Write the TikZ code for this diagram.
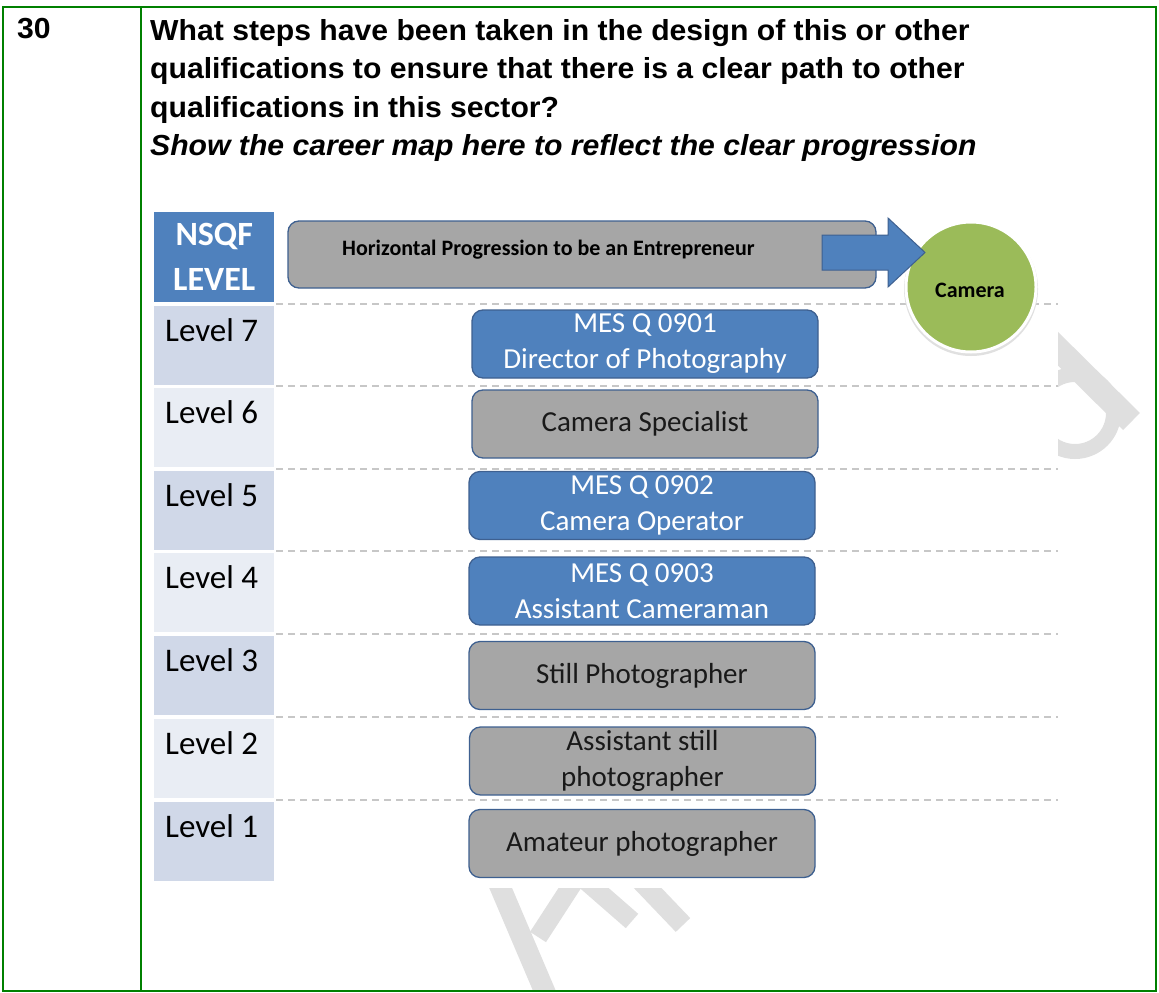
\documentclass[tikz,border=0pt]{standalone}
\usepackage{fontspec}
\setmainfont{Carlito}
\newfontfamily\headfont[FakeStretch=1.04]{Liberation Sans}
\definecolor{frame}{HTML}{008000}
\definecolor{qblue}{HTML}{4F81BD}
\definecolor{qedge}{HTML}{3E6090}
\definecolor{qgrey}{HTML}{A6A6A6}
\definecolor{lvldark}{HTML}{D0D8E8}
\definecolor{lvllight}{HTML}{E9EDF4}
\definecolor{camgreen}{HTML}{9BBB59}
\definecolor{wmark}{HTML}{DFDFDF}

\begin{document}
\begin{tikzpicture}[x=1pt, y=-1pt,
    head/.style={anchor=base west, inner sep=0pt, font=\headfont\bfseries\fontsize{29}{35}\selectfont},
    lvlcell/.style={anchor=north west, minimum width=120pt, minimum height=79pt, inner sep=0pt},
    lvltext/.style={anchor=north west, inner sep=0pt, xshift=11pt, yshift=-12pt, font=\fontsize{33}{40}\selectfont},
    qbox/.style={rounded corners=11pt, draw=qedge, line width=1.3pt, minimum width=346pt,
      minimum height=68pt, align=center, inner sep=0pt, font=\fontsize{29}{36}\selectfont},
    blueq/.style={qbox, fill=qblue, text=white},
    greyq/.style={qbox, fill=qgrey, text=black!90},
    levelsep/.style={draw=black!22, dash pattern=on 7pt off 5pt, line width=1.3pt}]
  \useasboundingbox (0,0) rectangle (1159,993);

  % Watermark strokes, partly hidden behind the chart
  \begin{scope}
    \clip (1058,7) rectangle (1156,991);
    \draw[wmark, line width=24pt] (1040,331) -- (1131.5,421.5);
    \draw[wmark, line width=15pt] (1075,413) circle (38.5pt);
  \end{scope}
  \begin{scope}
    \clip (150,888) rectangle (1156,991);
    \draw[wmark, line width=21pt] (490,863) -- (556,1018);
    \draw[wmark, line width=19pt] (538,937) -- (575,880);
    \draw[wmark, line width=19pt] (585,880) -- (632,921);
    \draw[wmark, line width=20pt] (640,880) -- (683,925);
  \end{scope}
  \fill[white] (150,203) rectangle (1058,888);

  % Table frame
  \draw[frame, line width=2.2pt] (3,7) rectangle (1156,991);
  \draw[frame, line width=2.2pt] (141,7) -- (141,991);

  % Row number and question
  \node[head] (num) at (17,38) {30};
  \node[head] (q1) at (150,40) {What steps have been taken in the design of this or other};
  \node[head] (q2) at (150,78.5) {qualifications to ensure that there is a clear path to other};
  \node[head] (q3) at (150,117) {qualifications in this sector?};
  \node[head, font=\headfont\bfseries\itshape\fontsize{29}{35}\selectfont] (q4) at (150,155.5)
    {Show the career map here to reflect the clear progression};

  % Level column
  \node[anchor=north west, fill=qblue, minimum width=120pt, minimum height=90pt, inner sep=0pt,
    align=center, text=white, font=\bfseries\fontsize{34}{45}\selectfont] (nsqf) at (154,212) {NSQF\\LEVEL};
  \foreach \lv/\top/\shade in {7/306/lvldark, 6/388/lvllight, 5/471/lvldark, 4/553/lvllight,
      3/636/lvldark, 2/719/lvllight, 1/802/lvldark}
    \node[lvlcell, fill=\shade, label={[lvltext]north west:Level \lv}] (lvl\lv) at (154,\top) {};

  % Dashed level separators
  \foreach \y in {304,386,469,551,634,717,800}
    \draw[levelsep] (276,\y) -- (1058,\y);

  % Entrepreneur track
  \node[greyq, minimum width=588pt, minimum height=67pt] (horiz) at (582,254.5) {};
  \node[anchor=west, inner sep=0pt, font=\bfseries\fontsize{22}{26}\selectfont] (htext) at (342,250)
    {Horizontal Progression to be an Entrepreneur};
  \fill[black!12] (971,289) circle (67pt);
  \node[circle, fill=camgreen, draw=white, line width=3pt, minimum size=130pt, inner sep=0pt,
    font=\bfseries\fontsize{22}{26}\selectfont] (cam) at (971,287) {};
  \node[font=\bfseries\fontsize{22}{26}\selectfont] (camtext) at (970,290) {Camera};
  \draw[fill=qblue, draw=qedge, line width=1pt]
    (822,235) -- (888,235) -- (888,218) -- (925,252.5) -- (888,287) -- (888,270) -- (822,270) -- cycle;

  % Qualifications per level
  \node[blueq] (job7) at (645,344)   {MES Q 0901\\Director of Photography};
  \node[greyq] (job6) at (645,424)   {Camera Specialist};
  \node[blueq] (job5) at (642,505.5) {MES Q 0902\\Camera Operator};
  \node[blueq] (job4) at (642,591)   {MES Q 0903\\Assistant Cameraman};
  \node[greyq] (job3) at (642,675.5) {Still Photographer};
  \node[greyq] (job2) at (642.5,761) {Assistant still\\photographer};
  \node[greyq] (job1) at (642,843.5) {Amateur photographer};
\end{tikzpicture}
\end{document}
